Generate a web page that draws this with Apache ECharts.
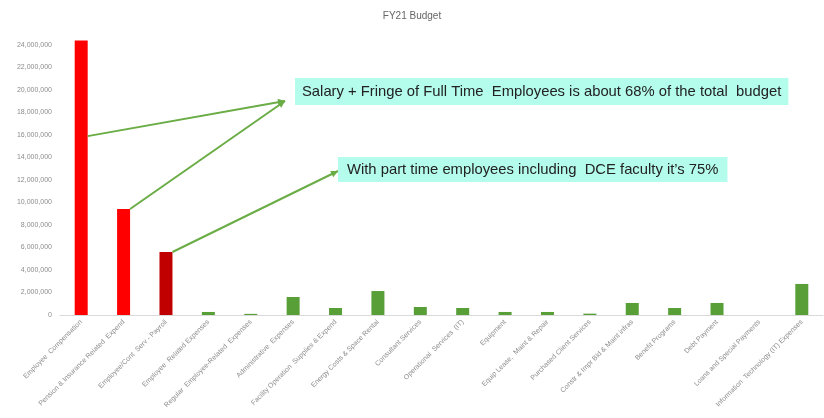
<!DOCTYPE html>
<html>
<head>
<meta charset="utf-8">
<script src="https://cdn.jsdelivr.net/npm/echarts@6/dist/echarts.min.js"></script>
<style>
html, body { margin: 0; padding: 0; background: #fff; }
#budgetChart { width: 824px; height: 418px; }
</style>
</head>
<body>
<div id="budgetChart"></div>
<script>
// categories (x axis)
var categories = [
	'Employee  Compensation',
	'Pension & Insurance Related  Expend',
	'Employee/Cont  Serv - Payroll',
	'Employee  Related Expenses',
	'Regular  Employee-Related  Expenses',
	'Administrative  Expenses',
	'Facility Operation  Supplies & Expend',
	'Energy Costs & Space Rental',
	'Consultant Services',
	'Operational  Services  (IT)',
	'Equipment',
	'Equip Lease,  Maint & Repair',
	'Purchased Client Services',
	'Constr & Impr Bld & Maint infras',
	'Benefit Programs',
	'Debt Payment',
	'Loans and Special Payments',
	'Information  Technology (IT) Expenses'
];
// budget values
var budget = [24400000, 9420000, 5600000, 270000, 100000, 1600000, 620000, 2130000, 710000,
	620000, 270000, 270000, 120000, 1070000, 620000, 1070000, 0, 2760000];
// bar colours
var barColors = ['#ff0000', '#ff0000', '#c00000'];
var greenColor = '#589f37';

// annotations
var note1 = 'Salary + Fringe of Full Time  Employees is about 68% of the total  budget';
var note2 = 'With part time employees including  DCE faculty it\u2019s 75%';

var charts = echarts.init(document.getElementById('budgetChart'));

var option = {
	animation: false,
	title: {
		text: 'FY21 Budget',
		left: 'center',
		top: 6,
		textStyle: { fontSize: 10, fontWeight: 'normal', color: '#666', fontFamily: 'Liberation Sans' }
	},
	grid: { left: 60, right: 1, top: 40.5, bottom: 103 },
	xAxis: {
		type: 'category',
		data: categories,
		axisLine: { lineStyle: { color: '#d9d9d9' } },
		axisTick: { show: false },
		axisLabel: {
			interval: 0,
			rotate: 45,
			fontSize: 7,
			color: '#8c8c8c',
			fontFamily: 'Liberation Sans',
			margin: 6
		}
	},
	yAxis: {
		type: 'value',
		min: 0,
		max: 24400000,
		interval: 2000000,
		axisLine: { show: false },
		axisTick: { show: false },
		splitLine: { show: false },
		axisLabel: {
			showMaxLabel: false,
			fontSize: 7,
			color: '#8c8c8c',
			fontFamily: 'Liberation Sans',
			margin: 8,
			formatter: function (v) { return v.toLocaleString('en-US'); }
		}
	},
	series: [{
		type: 'bar',
		barWidth: 13,
		data: budget.map(function (v, i) {
			return { value: v, itemStyle: { color: barColors[i] || greenColor } };
		})
	}]
};
charts.setOption(option);

// arrows from bars to the notes
function arrowHead(p, q) {
	var ang = Math.atan2(q[1] - p[1], q[0] - p[0]);
	var len = 7, w = 3.5;
	var bx = q[0] - len * Math.cos(ang), by = q[1] - len * Math.sin(ang);
	return [q, [bx + w * Math.sin(ang), by - w * Math.cos(ang)], [bx - w * Math.sin(ang), by + w * Math.cos(ang)]];
}
function arrow(p, q) {
	return [{
		type: 'line', z: 10,
		shape: { x1: p[0], y1: p[1], x2: q[0], y2: q[1] },
		style: { stroke: '#6aac45', lineWidth: 2 }
	}, {
		type: 'polygon', z: 10,
		shape: { points: arrowHead(p, q) },
		style: { fill: '#6aac45' }
	}];
}
var half = 6.5;
var p1 = charts.convertToPixel({ gridIndex: 0 }, [0, 15900000]);
var p2 = charts.convertToPixel({ gridIndex: 0 }, [1, budget[1]]);
var p3 = charts.convertToPixel({ gridIndex: 0 }, [2, budget[2]]);
var tip1 = [285, 101];
var tip2 = [338, 171];
var g = [].concat(
	arrow([p1[0] + half, p1[1]], tip1),
	arrow([p2[0] + half, p2[1]], tip1),
	arrow([p3[0] + half, p3[1]], tip2)
);
g.push({
	type: 'text', left: 295, top: 78, z: 11,
	style: {
		text: note1, fill: '#222', font: '14.8px "Liberation Sans"',
		backgroundColor: '#b4fcec', padding: [6, 7, 6, 7]
	}
});
g.push({
	type: 'text', left: 338, top: 157, z: 11,
	style: {
		text: note2, fill: '#222', font: '14.8px "Liberation Sans"',
		backgroundColor: '#b4fcec', padding: [5, 9, 5, 9]
	}
});
charts.setOption({ graphic: g });

window.onresize = function () {
	charts.resize();
};
</script>
</body>
</html>
